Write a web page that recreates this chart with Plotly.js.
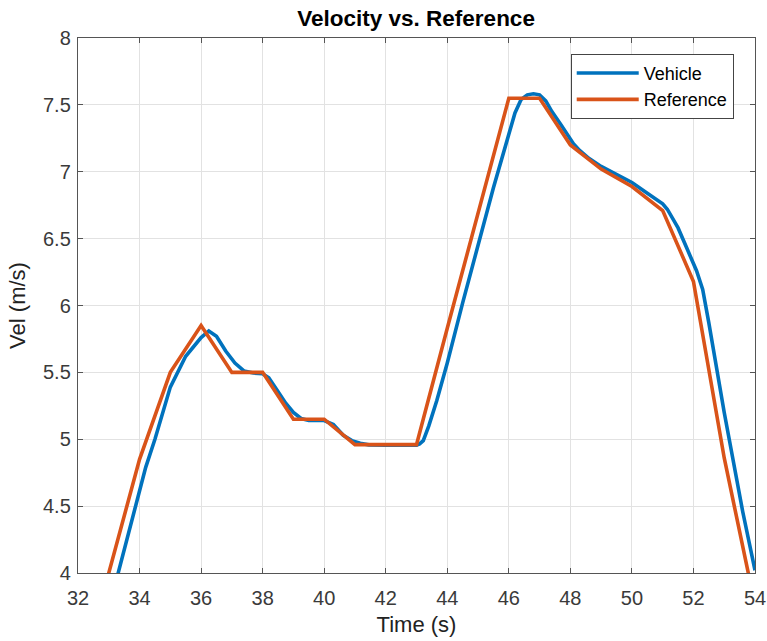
<!DOCTYPE html>
<html>
<head>
<meta charset="utf-8">
<script src="https://cdn.plot.ly/plotly-3.0.1.min.js"></script>
<style>html,body{margin:0;padding:0;background:#fff;}#chart{width:767px;height:641px;}</style>
</head>
<body>
<div id="chart"></div>
<script>
// Reference velocity (piecewise linear, 1 s steps)
var refTime = [32, 33, 34, 35, 36, 37, 38, 39, 40, 41, 42, 43, 44, 45, 46, 47, 48, 49, 50, 51, 52, 53, 54];
var refVel  = [3.15, 4.0, 4.85, 5.5, 5.85, 5.5, 5.5, 5.15, 5.15, 4.96, 4.96, 4.96, 5.83, 6.69, 7.55, 7.55, 7.2, 7.02, 6.89, 6.71, 6.18, 4.86, 3.76];

// Vehicle velocity (lagged, smoothed response)
var vehTime = [33.0, 33.3, 33.6, 33.9, 34.2, 34.5, 35.0, 35.5, 36.0, 36.25, 36.5, 36.8, 37.1, 37.4, 37.7, 38.0, 38.2, 38.46, 38.75, 39.0, 39.25, 39.5, 40.0, 40.3, 40.62, 40.9, 41.17, 41.45, 41.7, 42.0, 43.0, 43.1, 43.22, 43.4, 43.66, 44.0, 44.5, 45.0, 45.5, 46.0, 46.2, 46.4, 46.6, 46.8, 47.0, 47.2, 47.4, 47.7, 47.9, 48.1, 48.3, 48.6, 49.0, 49.5, 50.0, 50.5, 51.0, 51.15, 51.5, 51.8, 52.1, 52.3, 52.5, 53.0, 53.3, 53.6, 54.0];
var vehVel  = [3.73, 4.0, 4.27, 4.54, 4.79, 5.0, 5.39, 5.62, 5.76, 5.81, 5.77, 5.66, 5.57, 5.51, 5.495, 5.49, 5.46, 5.37, 5.27, 5.2, 5.155, 5.14, 5.14, 5.11, 5.03, 4.99, 4.97, 4.958, 4.955, 4.955, 4.955, 4.965, 4.99, 5.1, 5.29, 5.57, 6.02, 6.45, 6.88, 7.28, 7.44, 7.54, 7.575, 7.583, 7.575, 7.53, 7.45, 7.35, 7.28, 7.21, 7.16, 7.1, 7.04, 6.98, 6.92, 6.84, 6.76, 6.72, 6.58, 6.42, 6.26, 6.12, 5.87, 5.2, 4.83, 4.46, 4.02];

var xTicks = [32, 34, 36, 38, 40, 42, 44, 46, 48, 50, 52, 54];
var yTicks = [4, 4.5, 5, 5.5, 6, 6.5, 7, 7.5, 8];
var yTickText = ['4', '4.5', '5', '5.5', '6', '6.5', '7', '7.5', '8'];

var font = 'Liberation Sans, Arial, Helvetica, sans-serif';
var data = [
  {x: vehTime, y: vehVel, type: 'scatter', mode: 'lines', name: 'Vehicle',
   line: {color: '#0072BD', width: 3.6}},
  {x: refTime, y: refVel, type: 'scatter', mode: 'lines', name: 'Reference',
   line: {color: '#D95319', width: 3.6}}
];
var axisCommon = {
  showline: true, linecolor: '#555555', linewidth: 1.2, mirror: 'ticks',
  ticks: 'inside', ticklen: 5, tickwidth: 1, tickcolor: '#555555',
  showgrid: true, gridcolor: '#e2e2e2', gridwidth: 1, zeroline: false,
  tickfont: {family: font, size: 20, color: '#3a3a3a'}
};
var layout = {
  width: 767, height: 641,
  paper_bgcolor: '#ffffff', plot_bgcolor: '#ffffff',
  margin: {l: 78, r: 12, t: 38, b: 68},
  title: {text: '<b>Velocity vs. Reference</b>', font: {family: font, size: 22.5, color: '#000'},
          x: 0.5425, xanchor: 'center', y: 0.971, yanchor: 'middle'},
  xaxis: Object.assign({}, axisCommon, {
    range: [32, 54], tickvals: xTicks, ticktext: xTicks.map(String), automargin: false,
    ticklabelstandoff: 7,
    title: {text: 'Time (s)', font: {family: font, size: 22, color: '#222222'}, standoff: 8}
  }),
  yaxis: Object.assign({}, axisCommon, {
    range: [4, 8], tickvals: yTicks, ticktext: yTickText, automargin: false,
    ticklabelstandoff: 2,
    title: {text: 'Vel (m/s)', font: {family: font, size: 22, color: '#222222'}, standoff: 11}
  }),
  showlegend: true,
  legend: {x: 0.7278, y: 0.9705, xanchor: 'left', yanchor: 'top',
           bgcolor: '#ffffff', bordercolor: '#444444', borderwidth: 1,
           font: {family: font, size: 18, color: '#000'}, itemwidth: 62,
           tracegroupgap: 0}
};
Plotly.newPlot('chart', data, layout, {displayModeBar: false, staticPlot: true});
</script>
</body>
</html>
